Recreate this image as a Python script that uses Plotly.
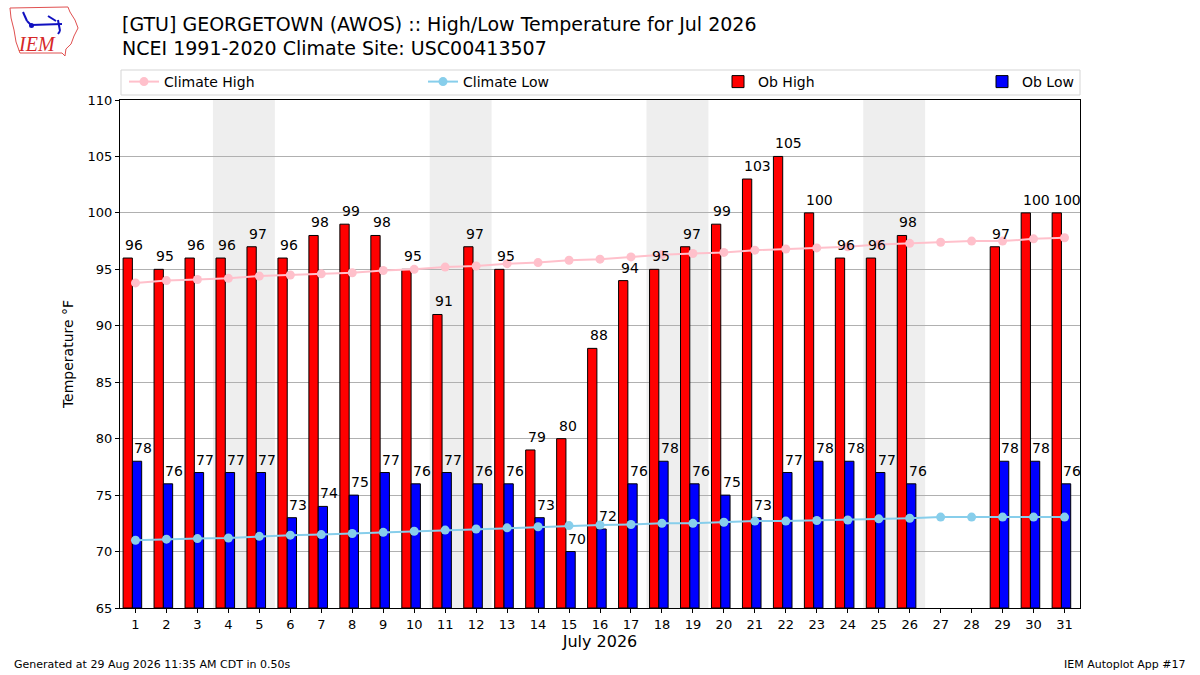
import plotly.graph_objects as go

days = list(range(1, 32))
ob_high = [96, 95, 96, 96, 97, 96, 98, 99, 98, 95, 91, 97, 95, 79, 80, 88, 94, 95, 97, 99,
           103, 105, 100, 96, 96, 98, None, None, 97, 100, 100]
ob_low = [78, 76, 77, 77, 77, 73, 74, 75, 77, 76, 77, 76, 76, 73, 70, 72, 76, 78, 76, 75,
          73, 77, 78, 78, 77, 76, None, None, 78, 78, 76]
clim_high = [93.8, 94.0, 94.1, 94.2, 94.4, 94.5, 94.6, 94.7, 94.9, 95.0, 95.2, 95.3, 95.5,
             95.6, 95.8, 95.9, 96.1, 96.3, 96.4, 96.5, 96.7, 96.8, 96.9, 97.0, 97.2, 97.3,
             97.4, 97.5, 97.5, 97.7, 97.8]
clim_low = [71.0, 71.1, 71.15, 71.2, 71.35, 71.45, 71.5, 71.6, 71.7, 71.8, 71.9, 72.0, 72.1,
            72.2, 72.3, 72.35, 72.4, 72.5, 72.5, 72.6, 72.7, 72.7, 72.75, 72.8, 72.9, 72.95,
            73.05, 73.05, 73.05, 73.05, 73.05]
weekends = [(3.5, 5.5), (10.5, 12.5), (17.5, 19.5), (24.5, 26.5)]

FONT = "DejaVu Sans"
W, H = 1200, 675
L, R, T, B = 120, 1080, 100, 608
BAR_W = 0.3
HIGH_OFF, LOW_OFF = -0.4, -0.1  # left edges relative to day


def px(x):
    return (x - L) / (R - L)


def py(y):
    return (B - y) / (B - T)


fig = go.Figure()
fig.add_trace(go.Bar(x=[d + HIGH_OFF + BAR_W / 2 for d in days],
                     y=[(v - 65) if v is not None else None for v in ob_high], base=65,
                     width=BAR_W, name="Ob High", legend="legend3", showlegend=True,
                     marker=dict(color="red", line=dict(color="black", width=1))))
fig.add_trace(go.Bar(x=[d + LOW_OFF + BAR_W / 2 for d in days],
                     y=[(v - 65) if v is not None else None for v in ob_low], base=65,
                     width=BAR_W, name="Ob Low", legend="legend4", showlegend=True,
                     marker=dict(color="blue", line=dict(color="black", width=1))))
fig.add_trace(go.Scatter(x=days, y=clim_high, mode="lines+markers", name="Climate High",
                         legend="legend", showlegend=True,
                         line=dict(color="pink", width=2), marker=dict(size=9, color="pink")))
fig.add_trace(go.Scatter(x=days, y=clim_low, mode="lines+markers", name="Climate Low",
                         legend="legend2", showlegend=True,
                         line=dict(color="skyblue", width=2), marker=dict(size=9, color="skyblue")))

annotations = []
for d, v in zip(days, ob_high):
    if v is not None:
        annotations.append(dict(x=d + HIGH_OFF, y=v, xref="x", yref="y", text=str(v), showarrow=False,
                                xanchor="left", yanchor="bottom", yshift=3,
                                font=dict(family=FONT, size=14, color="black")))
for d, v in zip(days, ob_low):
    if v is not None:
        annotations.append(dict(x=d + LOW_OFF, y=v, xref="x", yref="y", text=str(v), showarrow=False,
                                xanchor="left", yanchor="bottom", yshift=3,
                                font=dict(family=FONT, size=14, color="black")))

shapes = []
for a, b in weekends:
    shapes.append(dict(type="rect", xref="x", yref="y", x0=a, x1=b, y0=65, y1=110,
                       fillcolor="#EEEEEE", line=dict(width=0), layer="below"))
# legend frame
shapes.append(dict(type="rect", xref="paper", yref="paper", x0=px(121), x1=px(1080), y0=py(95), y1=py(70),
                   line=dict(color="#D5D5D5", width=1), fillcolor="white", layer="below"))

# simple IEM logo outline
iowa = [(10, 8), (68, 7), (70, 12), (75, 20), (78, 28), (74, 36), (71, 44), (66, 49), (65, 56),
        (62, 53), (20, 53), (16, 42), (14, 30), (11, 18)]
path = "M " + " L ".join(f"{px(x):.4f},{py(y):.4f}" for x, y in iowa) + " Z"
shapes.append(dict(type="path", xref="paper", yref="paper", path=path,
                   line=dict(color="#E05050", width=1)))
plane = [((31, 25), (62, 24)), ((23, 12), (27, 21)), ((27, 21), (31, 25)), ((48, 16), (56, 21)),
         ((58, 20), (60, 31)), ((60, 31), (58, 34))]
for (x0, y0), (x1, y1) in plane:
    shapes.append(dict(type="line", xref="paper", yref="paper", x0=px(x0), y0=py(y0), x1=px(x1), y1=py(y1),
                       line=dict(color="#1010C0", width=2)))
shapes.append(dict(type="circle", xref="paper", yref="paper", x0=px(29), x1=px(34), y0=py(28), y1=py(23),
                   fillcolor="#1010C0", line=dict(width=0)))

leg_common = dict(orientation="h", yanchor="middle", xanchor="left", bgcolor="rgba(0,0,0,0)",
                  borderwidth=0, font=dict(family=FONT, size=14), itemwidth=30)

annotations += [
    dict(text="[GTU] GEORGETOWN (AWOS) :: High/Low Temperature for Jul 2026", xref="paper", yref="paper",
         x=px(120), y=py(24), xanchor="left", yanchor="middle", showarrow=False,
         font=dict(family=FONT, size=19)),
    dict(text="NCEI 1991-2020 Climate Site: USC00413507", xref="paper", yref="paper",
         x=px(120), y=py(48), xanchor="left", yanchor="middle", showarrow=False,
         font=dict(family=FONT, size=19)),
    dict(text="Generated at 29 Aug 2026 11:35 AM CDT in 0.50s", xref="paper", yref="paper",
         x=px(12), y=py(664), xanchor="left", yanchor="middle", showarrow=False,
         font=dict(family=FONT, size=11)),
    dict(text="IEM Autoplot App #17", xref="paper", yref="paper",
         x=px(1188), y=py(664), xanchor="right", yanchor="middle", showarrow=False,
         font=dict(family=FONT, size=11)),
    dict(text="<i>IEM</i>", xref="paper", yref="paper", x=px(37), y=py(44),
         xanchor="center", yanchor="middle", showarrow=False,
         font=dict(family="Liberation Serif", size=20, color="#D62728")),
]

fig.update_layout(
    width=W, height=H,
    margin=dict(l=L, r=W - R, t=T, b=H - B, autoexpand=False),
    plot_bgcolor="white", paper_bgcolor="white",
    font=dict(family=FONT, size=13, color="black"),
    barmode="overlay",
    showlegend=True,
    shapes=shapes,
    legend=dict(x=px(124), y=py(82), **leg_common),
    legend2=dict(x=px(423), y=py(82), **leg_common),
    legend3=dict(x=px(718), y=py(82), **leg_common),
    legend4=dict(x=px(982), y=py(82), **leg_common),
    xaxis=dict(range=[0.5, 31.5], tickmode="array", tickvals=days, ticktext=[str(d) for d in days],
               ticks="outside", ticklen=4, tickcolor="black", showgrid=False, zeroline=False,
               showline=True, linecolor="black", linewidth=1, mirror=True, automargin=False,
               title=dict(text="July 2026", font=dict(size=16), standoff=2),
               tickfont=dict(size=13)),
    yaxis=dict(range=[65, 110], dtick=5, ticks="outside", ticklen=4, tickcolor="black",
               showgrid=True, gridcolor="#B0B0B0", gridwidth=1, zeroline=False,
               showline=True, linecolor="black", linewidth=1, mirror=True, automargin=False,
               title=dict(text="Temperature °F", font=dict(size=14), standoff=10),
               tickfont=dict(size=13)),
    annotations=annotations,
)

fig.write_html("out.html", config={"displayModeBar": False},
               post_script="document.body.style.margin='0';")
